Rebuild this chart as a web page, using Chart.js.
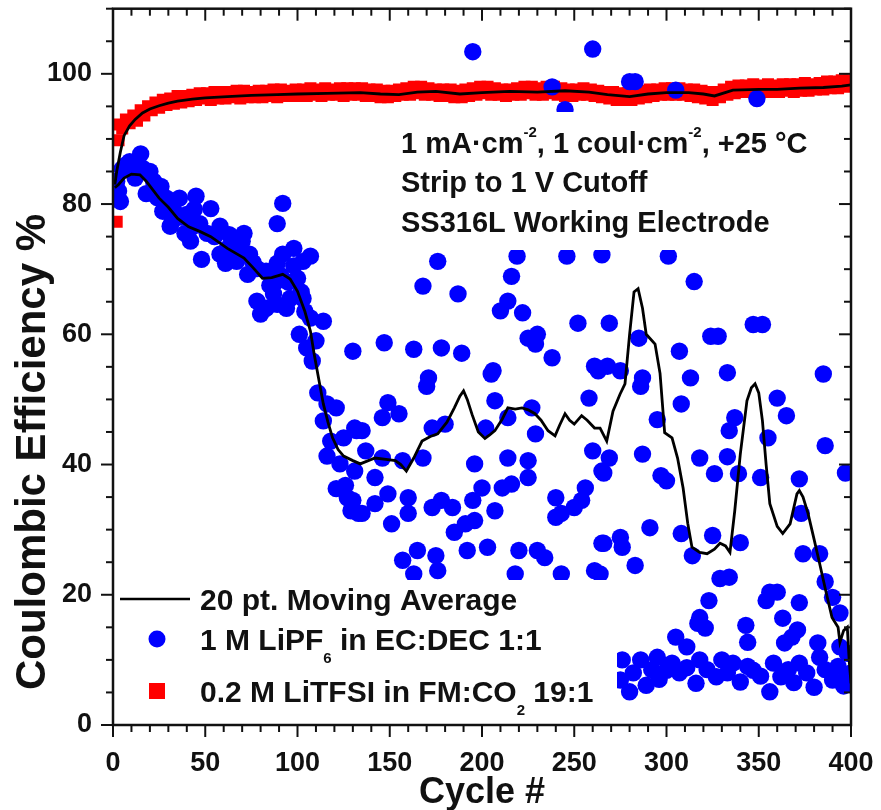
<!DOCTYPE html>
<html>
<head>
<meta charset="utf-8">
<title>Coulombic Efficiency vs Cycle</title>
<script src="https://cdn.jsdelivr.net/npm/chart.js@4.4.1/dist/chart.umd.min.js"></script>
<style>
  html, body { margin: 0; padding: 0; background: #fff; }
  #wrap { width: 881px; height: 810px; }
</style>
</head>
<body>
<div id="wrap"><canvas id="ceChart" width="881" height="810"></canvas></div>
<script>
const FONT = "'Liberation Sans', Arial, Helvetica, sans-serif";
const INK = '#111';

// axis labels
const xTickValues = [0, 50, 100, 150, 200, 250, 300, 350, 400];
const yTickValues = [0, 20, 40, 60, 80, 100];
const xTitle = 'Cycle #';
const yTitle = 'Coulombic Efficiency %';

// 0.2 M LiTFSI in FM:CO2 19:1 — CE % for cycles 1, 3, 5, ... 399
const fmCO2CE = [
  92.2, 89.8, 91.6, 93.0, 92.4,  93.6, 92.8, 94.4, 93.6, 95.0,
  94.4, 95.6, 94.8, 96.0, 95.2,  96.2, 95.4, 96.6, 95.6, 96.6,
  95.8, 96.8, 96.0, 97.0, 96.2,  97.0, 96.0, 97.2, 96.2, 97.2,
  96.2, 97.2, 96.4, 97.4, 96.2,  97.4, 96.4, 97.2, 96.4, 97.4,
  96.4, 97.4, 96.6, 97.6, 96.4,  97.6, 96.6, 97.4, 96.6, 97.6,
  96.6, 97.6, 96.6, 97.8, 96.8,  97.6, 96.6, 97.8, 96.8, 97.6,
  96.8, 97.8, 96.6, 97.8, 96.8,  97.8, 96.8, 97.8, 96.6, 97.6,
  96.6, 97.6, 96.4, 97.4, 96.4,  97.4, 96.6, 97.6, 96.8, 97.8,
  96.8, 98.0, 97.0, 98.0, 96.8,  97.8, 96.8, 97.6, 96.6, 97.6,
  96.6, 97.6, 96.4, 97.4, 96.4,  97.6, 96.6, 97.8, 96.8, 98.0,
  97.0, 98.0, 96.8, 97.8, 96.8,  97.6, 96.6, 97.6, 96.8, 97.8,
  96.8, 98.0, 97.0, 98.0, 96.8,  97.8, 96.8, 98.0, 97.0, 98.0,
  96.8, 97.8, 96.6, 97.6, 96.6,  97.6, 96.8, 97.8, 96.8, 97.6,
  96.6, 97.4, 96.4, 97.2, 96.2,  97.2, 96.0, 97.0, 96.0, 97.0,
  96.0, 97.2, 96.2, 97.4, 96.4,  97.6, 96.6, 97.6, 96.8, 97.8,
  96.8, 97.8, 96.8, 97.8, 96.8,  97.6, 96.6, 97.6, 96.4, 97.4,
  96.2, 97.2, 96.0, 97.2, 96.4,  97.6, 96.8, 98.0, 97.0, 98.2,
  97.2, 98.2, 97.2, 98.4, 97.2,  98.2, 97.2, 98.4, 97.2, 98.2,
  97.2, 98.4, 97.4, 98.4, 97.2,  98.4, 97.4, 98.6, 97.4, 98.4,
  97.6, 98.6, 97.6, 98.8, 97.8,  98.8, 97.8, 99.0, 98.0, 99.0
];
const fmCO2Extra = [[2, 77.3]];

// 1 M LiPF6 in EC:DEC 1:1 — [cycle, CE %]
const lipf6Points = [
  [1, 83], [2, 83.5], [3, 82], [4, 80.4], [5, 85.4], [7, 86], [9, 86.5], [10, 85.5],
  [12, 84], [15, 87.7], [16, 85.5], [18, 81.6], [20, 85], [22, 83.5], [24, 81],
  [26, 82.7], [27, 78.9], [29, 80.9], [31, 76.6], [32, 77.3], [33, 79], [36, 80.9],
  [37, 78], [39, 75.5], [40, 78.4], [42, 74.3], [43, 76.5], [44, 79.2], [45, 81.2],
  [47, 77], [48, 71.5], [51, 75.5], [53, 79.3], [55, 75], [58, 76.6], [58, 72.3],
  [61, 70.9], [62, 73.2], [63, 75.3], [66, 73], [67, 71.2], [68, 74], [70, 74.3],
  [71, 75.5], [73, 69.2], [74, 72.3], [76, 71], [78, 70.1], [78, 65.1], [80, 63.1],
  [83, 69.7], [83, 64], [85, 67.5], [87, 66.2], [88, 68], [89, 77], [89, 70.9],
  [89, 64.6], [91, 69], [92, 80.1], [92, 72.3], [94, 64], [95, 68], [96, 65.5],
  [98, 73.2], [98, 70.5], [100, 68.6], [101, 60], [102, 66.5], [103, 71.2], [103, 65.5],
  [104, 63.5], [105, 57.9], [107, 72], [107, 62.5], [108, 55.9], [110, 59], [114, 62],
  [111, 51], [114, 46.7], [116, 49.3], [116, 41.3], [118, 43.6], [121, 48.7], [121, 36.3],
  [123, 40.1], [125, 44.1], [126, 36.8], [127, 34.9], [129, 32.9], [130, 34.5], [130, 57.4],
  [131, 39], [131, 45.6], [132, 45.2], [133, 32.5], [135, 32.5], [135, 45.2], [137, 42.1],
  [142, 38], [142, 34], [146, 47.2], [146, 41], [147, 58.7], [149, 49.5], [149, 35.5],
  [151, 30.9], [155, 47.8], [157, 40.6], [157, 25.3], [160, 34.9], [160, 32.5], [163, 57.7],
  [163, 23.2], [165, 26.8], [168, 67.4], [168, 41], [170, 52], [171, 53.3], [173, 45.6],
  [173, 33.4], [175, 26], [176, 71.2], [176, 23.7], [178, 57.9], [178, 34.5], [180, 46.2],
  [184, 33.4], [185, 29.6], [187, 66.2], [189, 57.1], [191, 30.9], [192, 26.8], [195, 103.4],
  [195, 34.5], [196, 40.1], [196, 31.4], [200, 36.4], [202, 45.6], [203, 27.3], [205, 53.9],
  [206, 54.4], [207, 49.8], [207, 32.9], [210, 63.6], [211, 36.4], [214, 65.1], [214, 47.2],
  [214, 41], [216, 68.9], [216, 37], [218, 23.2], [219, 72], [220, 26.8], [222, 63.3],
  [225, 59.4], [225, 40.6], [225, 38], [227, 48.7], [229, 58.5], [229, 44.7], [230, 60],
  [230, 26.8], [234, 25.7], [238, 98], [238, 56.4], [240, 34.9], [240, 31.9], [243, 32.5],
  [243, 23.2], [245, 94.5], [246, 72], [250, 33.4], [252, 61.7], [254, 34.5], [256, 36.4],
  [258, 50.2], [260, 103.8], [260, 42.1], [261, 55.1], [261, 23.7], [263, 54.4], [264, 23.2],
  [265, 72.2], [265, 39], [265, 27.9], [266, 38.7], [266, 27.9], [268, 55.1], [269, 61.7],
  [269, 41], [275, 54.4], [275, 28.8], [275, 6.9], [276, 27.3], [276, 10], [280, 98.8],
  [280, 5.1], [282, 8], [283, 98.8], [283, 24.5], [285, 59.4], [286, 52], [286, 10],
  [287, 53.3], [287, 41.6], [289, 6.1], [291, 30.3], [292, 8.5], [295, 46.9], [295, 10.4],
  [296, 7], [297, 38.3], [300, 37.5], [300, 8.4], [301, 72], [303, 9.5], [305, 97.5],
  [305, 13.5], [307, 57.4], [307, 8], [308, 49.3], [308, 29.4], [311, 12], [311, 8.8],
  [313, 53.3], [314, 26], [315, 68.1], [316, 6.4], [317, 15.6], [318, 41], [318, 16.5],
  [318, 10], [321, 14.9], [322, 8.5], [323, 19.1], [324, 59.7], [325, 29.1], [326, 38.6],
  [327, 7.4], [328, 59.7], [329, 22.5], [330, 10], [333, 54.1], [333, 41.2], [333, 8],
  [334, 45.2], [334, 22.7], [336, 9.5], [337, 47.2], [339, 38.6], [340, 28], [340, 6.6],
  [343, 15.3], [344, 12.7], [344, 9], [347, 61.5], [347, 8.4], [349, 96.2], [351, 38],
  [351, 7.5], [352, 61.5], [354, 19.1], [355, 44.1], [356, 20.4], [356, 5.1], [358, 9.5],
  [360, 50.2], [360, 20.4], [362, 7.4], [363, 16.4], [364, 12.6], [365, 47.5], [366, 8.5],
  [368, 13.5], [369, 6.5], [371, 14.6], [372, 37.8], [372, 18.8], [372, 9.5], [373, 32.5],
  [374, 26.3], [376, 8], [380, 5.8], [382, 12.6], [383, 26.3], [383, 10.4], [385, 53.9],
  [386, 42.9], [386, 22], [386, 8.5], [390, 19.6], [390, 6.9], [393, 9], [394, 17.2],
  [394, 12], [396, 6], [397, 38.7], [398, 11], [398, 7.4], [400, 8]
];

// 20 pt. moving averages — [cycle, CE %]
const lipf6Average = [
  [1, 82.5], [3, 83], [6, 84], [10, 84.6], [14.6, 84.5], [18, 83.5], [25, 80.9], [30, 79.5],
  [35, 77.8], [41, 76.5], [47, 75.8], [53, 75], [62, 73.2], [71, 71.7], [76, 70.2], [81, 68.6],
  [86, 68.7], [92, 69.2], [96, 68.5], [100, 66.6], [104, 63.5], [107, 60.5], [109, 57],
  [111, 53.9], [114, 49.3], [116.5, 46.5], [119, 44.1], [122, 42.3], [125, 41.3], [130, 40.6],
  [134, 40.1], [142, 41], [148, 40.8], [153, 40.6], [156, 40], [159, 39], [163, 41],
  [167.5, 43.6], [172, 44.3], [176, 44.7], [181, 46.5], [185, 48.7], [188, 50.5], [190, 51.3],
  [192, 50], [194.6, 47.7], [198, 45], [201.6, 44], [204, 44.5], [207, 45.2], [211, 47],
  [214, 48.7], [218, 48.5], [221.7, 48.7], [225, 48.4], [228.7, 47.8], [232, 46.8],
  [235.8, 45.2], [239.6, 44.4], [242, 46], [245, 47.8], [247.5, 46.8], [250, 46.2],
  [254, 47.5], [257, 46.8], [261, 45.6], [264, 45.6], [267.6, 43.6], [271, 48.2],
  [274.8, 50.8], [277.5, 52.4], [280, 60], [282.4, 66.5], [284.6, 67], [287, 64], [289, 60],
  [293.8, 58.5], [296.5, 54], [299, 44.9], [303, 44.1], [306, 41], [309, 36.4], [311.5, 31],
  [313.8, 27.3], [318, 26.5], [322, 26.3], [326, 27], [329, 27.9], [332, 27.5], [334.4, 26.5],
  [337, 32.9], [340, 41.6], [343.6, 49.8], [346, 51.8], [348, 52.4], [350, 51], [352, 46.7],
  [354, 40], [356, 34], [360, 30.5], [363, 29.4], [367, 30.9], [370.7, 35.5], [372, 36],
  [374, 35], [376.7, 32.5], [380, 28.5], [383, 24.8], [386, 21], [389.7, 16.5], [393, 15],
  [394, 12.7], [396, 14.5], [398, 15], [399, 10], [400, 6.4]
];
const fmCO2Average = [
  [1, 83], [2, 85], [4, 88], [6, 90.5], [9, 92], [12, 93], [16, 94], [20, 94.6], [25, 95.1],
  [30, 95.5], [35, 95.8], [43, 96.1], [50, 96.3], [62, 96.5], [75, 96.7], [89, 96.8],
  [100, 96.9], [116, 97.0], [134, 97.1], [145, 96.9], [155, 96.8], [165, 97.2], [175, 97.3],
  [188, 96.9], [200, 97.1], [215, 97.3], [230, 97.2], [245, 97.4], [258, 97.2], [268, 96.8],
  [280, 96.5], [290, 96.9], [300, 97.1], [312, 97.1], [320, 96.9], [326, 96.6], [336, 97.5],
  [350, 97.6], [360, 97.6], [372, 97.8], [385, 97.9], [395, 98.1], [400, 98.3]
];

const toXY = pairs => pairs.map(([x, y]) => ({ x, y }));
const fmCO2Points = fmCO2CE.map((y, i) => ({ x: 1 + 2 * i, y })).concat(toXY(fmCO2Extra));

const legendItems = [
  { kind: 'line', parts: [['20 pt. Moving Average']] },
  { kind: 'dot', parts: [['1 M LiPF'], ['6', 'sub'], [' in EC:DEC 1:1']] },
  { kind: 'square', parts: [['0.2 M LiTFSI in FM:CO'], ['2', 'sub'], [' 19:1']] }
];
const noteLines = [
  [['1 mA\u00b7cm'], ['-2', 'sup'], [', 1 coul\u00b7cm'], ['-2', 'sup'], [', +25 \u00b0C']],
  [['Strip to 1 V Cutoff']],
  [['SS316L Working Electrode']]
];

// text with sub/superscript pieces, left aligned on a baseline
function drawRich(ctx, parts, x, y, size) {
  let cx = x;
  parts.forEach(([text, kind]) => {
    const fs = kind ? Math.round(size * 0.5) : size;
    ctx.font = `bold ${fs}px ${FONT}`;
    const dy = kind === 'sup' ? -size * 0.55 : kind === 'sub' ? size * 0.42 : 0;
    ctx.fillText(text, cx, y + dy);
    cx += ctx.measureText(text).width;
  });
}

function line(ctx, x1, y1, x2, y2) {
  ctx.beginPath();
  ctx.moveTo(x1, y1);
  ctx.lineTo(x2, y2);
  ctx.stroke();
}

const framePlugin = {
  id: 'frame',
  afterDatasetsDraw(chart) {
    const { ctx, chartArea: a, scales: { x, y } } = chart;
    ctx.save();

    // legend and note sit on white panels over the data
    ctx.fillStyle = '#fff';
    ctx.fillRect(a.left, 580, 617 - a.left, a.bottom - 580);
    ctx.fillRect(395, 112, a.right - 395, 250 - 112);

    // box and ticks: outward on bottom/left, inward on top/right
    ctx.strokeStyle = INK;
    ctx.lineWidth = 2.5;
    ctx.strokeRect(a.left, a.top, a.right - a.left, a.bottom - a.top);
    ctx.lineWidth = 2;
    for (let v = 0; v <= 400; v += 10) {
      const px = x.getPixelForValue(v);
      const len = v % 50 === 0 ? 12 : 7;
      line(ctx, px, a.bottom, px, a.bottom + len);
      line(ctx, px, a.top, px, a.top + len);
    }
    for (let v = 0; v <= 110; v += 5) {
      const py = y.getPixelForValue(v);
      const len = v % 20 === 0 ? 12 : 7;
      line(ctx, a.left - len, py, a.left, py);
      line(ctx, a.right - len, py, a.right, py);
    }

    // legend
    ctx.fillStyle = INK;
    ctx.textBaseline = 'alphabetic';
    ctx.textAlign = 'left';
    const legendBase = [610, 650, 702];
    legendItems.forEach((item, i) => {
      const by = legendBase[i];
      const my = by - 11;
      if (item.kind === 'line') {
        ctx.strokeStyle = '#000';
        ctx.lineWidth = 2.5;
        line(ctx, 120, my, 190, my);
      } else if (item.kind === 'dot') {
        ctx.fillStyle = '#0000ff';
        ctx.beginPath();
        ctx.arc(157, my, 8.5, 0, Math.PI * 2);
        ctx.fill();
      } else {
        ctx.fillStyle = '#ff0000';
        ctx.fillRect(149, my - 8, 16, 16);
      }
      ctx.fillStyle = INK;
      drawRich(ctx, item.parts, 200, by, 30);
    });

    // test conditions
    const noteBase = [153, 192, 232];
    noteLines.forEach((parts, i) => drawRich(ctx, parts, 401, noteBase[i], 29));

    // axis titles
    ctx.font = `bold 36px ${FONT}`;
    ctx.textAlign = 'center';
    ctx.fillText(xTitle, (a.left + a.right) / 2, 803);
    ctx.save();
    ctx.translate(45, 452);
    ctx.rotate(-Math.PI / 2);
    ctx.font = `bold 42px ${FONT}`;
    ctx.fillText(yTitle, 0, 0);
    ctx.restore();

    ctx.restore();
  }
};

const tickFont = { family: FONT, size: 27, weight: 'bold' };

new Chart(document.getElementById('ceChart'), {
  type: 'scatter',
  data: {
    datasets: [
      {
        label: 'Moving average (LiPF6)',
        data: toXY(lipf6Average),
        showLine: true,
        borderColor: '#000',
        borderWidth: 2.8,
        pointRadius: 0,
        tension: 0,
        order: 0
      },
      {
        label: 'Moving average (LiTFSI)',
        data: toXY(fmCO2Average),
        showLine: true,
        borderColor: '#000',
        borderWidth: 2.8,
        pointRadius: 0,
        tension: 0,
        order: 0
      },
      {
        label: '1 M LiPF6 in EC:DEC 1:1',
        data: toXY(lipf6Points),
        pointStyle: 'circle',
        pointRadius: 8.7,
        borderWidth: 0,
        backgroundColor: '#0000ff',
        order: 1
      },
      {
        label: '0.2 M LiTFSI in FM:CO2 19:1',
        data: fmCO2Points,
        pointStyle: 'rect',
        pointRadius: 8.5,
        borderWidth: 0,
        backgroundColor: '#ff0000',
        order: 2
      }
    ]
  },
  options: {
    responsive: false,
    animation: false,
    events: [],
    clip: 0,
    layout: { padding: { top: 6.5, right: 30, left: 0, bottom: 0 } },
    plugins: { legend: { display: false }, tooltip: { enabled: false } },
    scales: {
      x: {
        type: 'linear',
        min: 0,
        max: 400,
        grid: { display: false, drawTicks: false },
        border: { display: false },
        afterBuildTicks: s => { s.ticks = xTickValues.map(value => ({ value })); },
        afterFit: s => { s.height = 85; s.paddingLeft = 0; s.paddingRight = 0; },
        ticks: { font: tickFont, color: INK, padding: 22, maxRotation: 0 }
      },
      y: {
        type: 'linear',
        min: 0,
        max: 110,
        grid: { display: false, drawTicks: false },
        border: { display: false },
        afterBuildTicks: s => { s.ticks = yTickValues.map(value => ({ value })); },
        afterFit: s => { s.width = 113; s.paddingTop = 0; s.paddingBottom = 0; },
        ticks: { font: tickFont, color: INK, padding: 21 }
      }
    }
  },
  plugins: [framePlugin]
});
</script>
</body>
</html>
